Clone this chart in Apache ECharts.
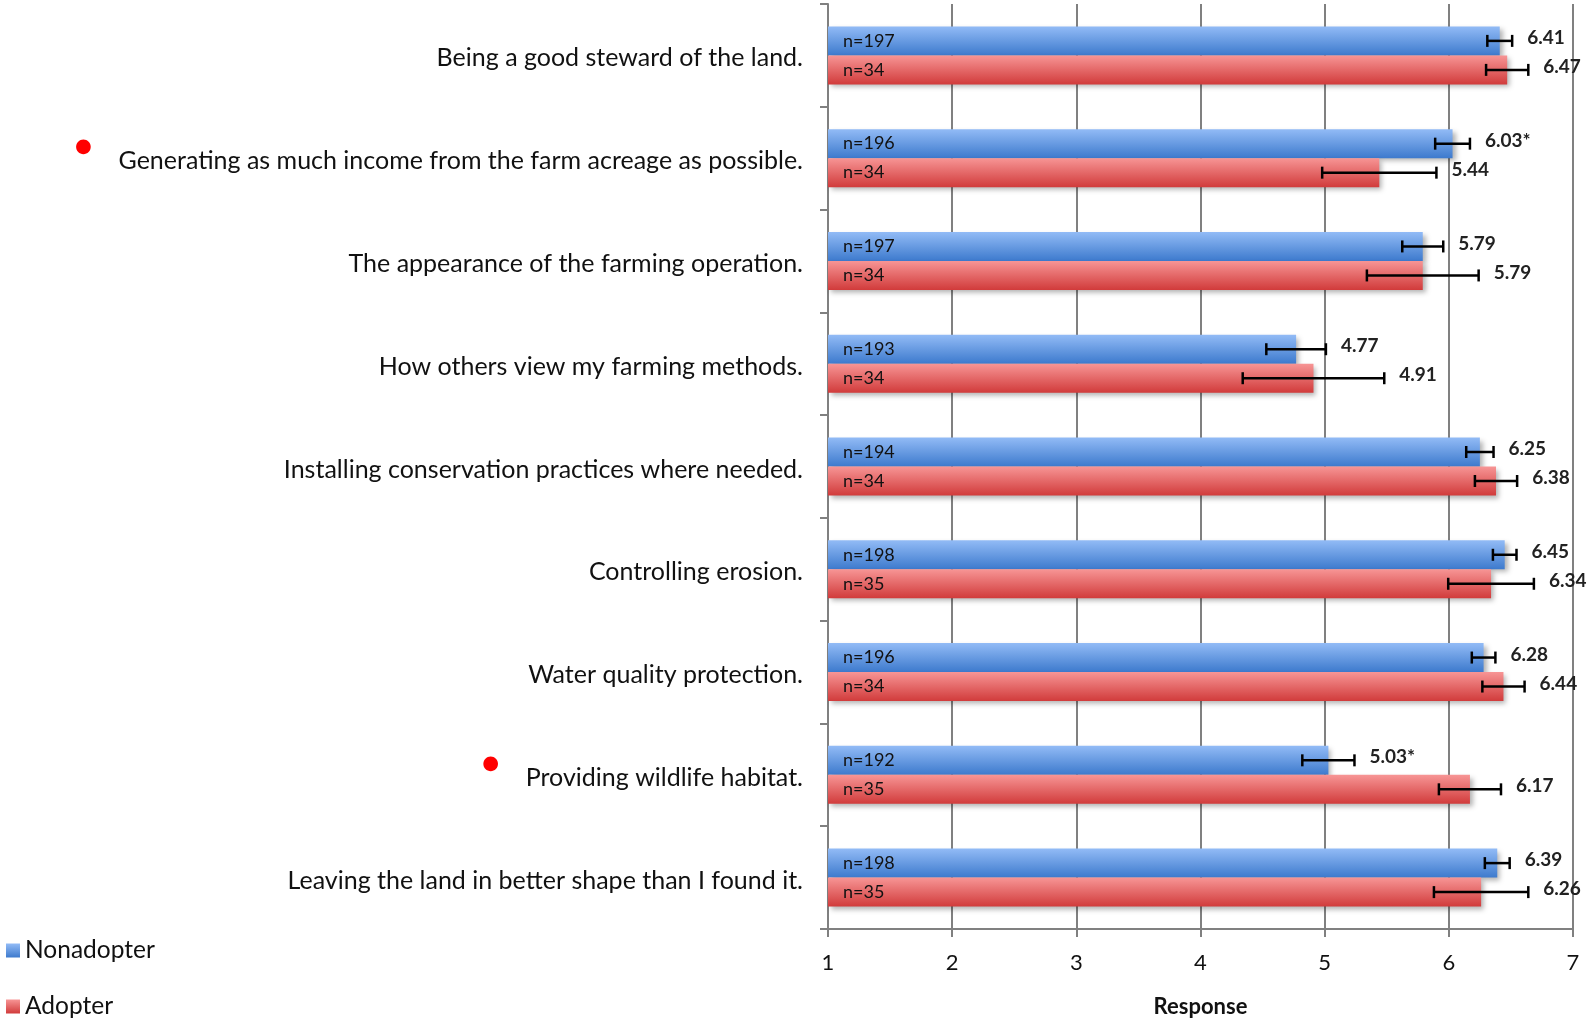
<!DOCTYPE html>
<html>
<head>
<meta charset="utf-8">
<script src="https://cdn.jsdelivr.net/npm/echarts@6/dist/echarts.min.js"></script>
<style>
  html, body { margin: 0; padding: 0; background: #ffffff; }
  #mychart { width: 1588px; height: 1019px; }
</style>
</head>
<body>
<div id="mychart"></div>
<script>
// categories, top to bottom
var categories = [
  'Being a good steward of the land.',
  'Generating as much income from the farm acreage as possible.',
  'The appearance of the farming operation.',
  'How others view my farming methods.',
  'Installing conservation practices where needed.',
  'Controlling erosion.',
  'Water quality protection.',
  'Providing wildlife habitat.',
  'Leaving the land in better shape than I found it.'
];
var nonadopter = [6.41, 6.03, 5.79, 4.77, 6.25, 6.45, 6.28, 5.03, 6.39];
var adopter    = [6.47, 5.44, 5.79, 4.91, 6.38, 6.34, 6.44, 6.17, 6.26];
var nonadopterErr = [0.10, 0.14, 0.165, 0.24, 0.11, 0.095, 0.095, 0.21, 0.10];
var adopterErr    = [0.17, 0.46, 0.45, 0.57, 0.17, 0.345, 0.17, 0.25, 0.38];
var nonadopterN = [197, 196, 197, 193, 194, 198, 196, 192, 198];
var adopterN    = [34, 34, 34, 34, 34, 35, 34, 35, 35];
// significant difference (marked with * and a red dot)
var significant = [0, 1, 0, 0, 0, 0, 0, 1, 0];
var xTicks = [1, 2, 3, 4, 5, 6, 7];

var BAR_W = 29;
var blueGrad = new echarts.graphic.LinearGradient(0, 0, 0, 1, [
  { offset: 0, color: '#92bbf6' }, { offset: 1, color: '#3d7acd' }
]);
var redGrad = new echarts.graphic.LinearGradient(0, 0, 0, 1, [
  { offset: 0, color: '#f79595' }, { offset: 1, color: '#d13b3b' }
]);

function errRenderer(vals, errs, labels, shift) {
  return function (params, api) {
    var i = params.dataIndex;
    var v = vals[i], e = errs[i];
    var c = api.coord([v, i]);
    var lo = api.coord([v - e, i]);
    var hi = api.coord([v + e, i]);
    var y = c[1] + shift;
    var st = { stroke: '#000', lineWidth: 2.5 };
    return {
      type: 'group',
      children: [
        { type: 'line', shape: { x1: lo[0], y1: y, x2: hi[0], y2: y }, style: st },
        { type: 'line', shape: { x1: lo[0], y1: y - 6, x2: lo[0], y2: y + 6 }, style: st },
        { type: 'line', shape: { x1: hi[0], y1: y - 6, x2: hi[0], y2: y + 6 }, style: st },
        { type: 'text', x: hi[0] + 15, y: y - 3,
          style: { text: labels[i], fill: '#222', font: 'bold 19px Lato',
                   textVerticalAlign: 'middle', verticalAlign: 'middle' } }
      ]
    };
  };
}

var nonLabels = nonadopter.map(function (v, i) { return v.toFixed(2) + (significant[i] ? '*' : ''); });
var adoLabels = adopter.map(function (v) { return v.toFixed(2); });

var myChart = echarts.init(document.getElementById('mychart'));
var option = {
  backgroundColor: '#ffffff',
  animation: false,
  textStyle: { fontFamily: 'Lato' },
  grid: { left: 828, right: 15, top: 4, bottom: 90, outerBoundsMode: 'none', containLabel: false },
  legend: {
    data: ['Nonadopter', 'Adopter'],
    orient: 'vertical',
    left: 6, top: 938, height: 90, padding: 0,
    itemWidth: 14, itemHeight: 14, itemGap: 31,
    icon: 'rect',
    textStyle: { fontSize: 24.5, color: '#111', fontFamily: 'Lato' }
  },
  xAxis: {
    type: 'value', min: 1, max: 7, interval: 1,
    name: 'Response', nameLocation: 'middle', nameGap: 67,
    nameTextStyle: { fontSize: 22, fontWeight: 'bold', color: '#111' },
    axisLine: { show: true, lineStyle: { color: '#808080', width: 2 } },
    axisTick: { show: true, length: 8, lineStyle: { color: '#808080', width: 2 } },
    axisLabel: { fontSize: 22, color: '#111', margin: 23,
                 formatter: function (v) { return xTicks.indexOf(v) >= 0 ? String(v) : ''; } },
    splitLine: { show: true, lineStyle: { color: '#808080', width: 2 } }
  },
  yAxis: {
    type: 'category', inverse: true, data: categories,
    axisLine: { show: true, lineStyle: { color: '#808080', width: 2 } },
    axisTick: { show: true, length: 8, lineStyle: { color: '#808080', width: 2 } },
    axisLabel: {
      margin: 25, color: '#111',
      formatter: function (v, i) {
        return significant[i] ? '{dot|●}{lab|' + v + '}' : '{lab|' + v + '}';
      },
      rich: {
        lab: { fontSize: 25, color: '#111', fontFamily: 'Lato', padding: [6, 0, 0, 0] },
        dot: { fontSize: 30, color: '#ff0000', padding: [0, 26, 24, 0] }
      }
    }
  },
  series: [
    {
      name: 'Nonadopter', type: 'bar', data: nonadopter,
      barWidth: BAR_W, barGap: '0%',
      itemStyle: { color: blueGrad, shadowColor: 'rgba(0,0,0,0.3)', shadowBlur: 5, shadowOffsetX: 3, shadowOffsetY: 3 },
      label: { show: true, position: 'insideLeft', offset: [10, 0], fontSize: 18, color: '#111',
               formatter: function (p) { return 'n=' + nonadopterN[p.dataIndex]; } },
      z: 2
    },
    {
      name: 'Adopter', type: 'bar', data: adopter,
      barWidth: BAR_W, barGap: '0%',
      itemStyle: { color: redGrad, shadowColor: 'rgba(0,0,0,0.3)', shadowBlur: 5, shadowOffsetX: 3, shadowOffsetY: 3 },
      label: { show: true, position: 'insideLeft', offset: [10, 0], fontSize: 18, color: '#111',
               formatter: function (p) { return 'n=' + adopterN[p.dataIndex]; } },
      z: 2
    },
    {
      name: 'errNon', type: 'custom', data: nonadopter.map(function (v, i) { return [v, i]; }),
      renderItem: errRenderer(nonadopter, nonadopterErr, nonLabels, -BAR_W / 2), z: 5
    },
    {
      name: 'errAdo', type: 'custom', data: adopter.map(function (v, i) { return [v, i]; }),
      renderItem: errRenderer(adopter, adopterErr, adoLabels, BAR_W / 2), z: 5
    }
  ]
};
myChart.setOption(option);
</script>
</body>
</html>
